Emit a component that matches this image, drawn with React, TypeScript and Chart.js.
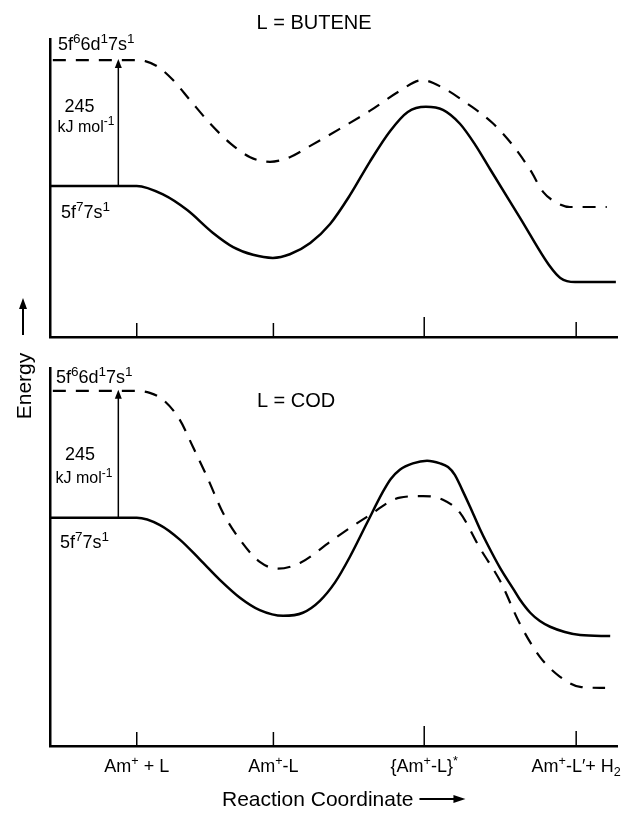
import React, { useEffect, useRef } from "react";
import { Chart, registerables } from "chart.js";

Chart.register(...registerables);

const FONT = '"Liberation Sans", Arial, Helvetica, sans-serif';

// ---------- data ----------
// Reaction-coordinate stages (x axis, arbitrary units 0-100)
const stageLabels = ["Am^{+} + L", "Am^{+}-L", "{Am^{+}-L}^{*}", "Am^{+}-L\u2032+ H_{2}"];
const stagePositions = [15.3, 39.4, 66.0, 92.8];

// Energies in kJ/mol relative to Am+ (5f7 7s1) + L
const excitationEnergy = 245;

// L = BUTENE, ground state 5f7 7s1 (solid)
const buteneGroundX = [0, 15.3, 20.0, 24.2, 28.7, 32.3, 35.8, 39.3, 42.3, 45.9, 49.4, 52.9, 56.4, 60.0, 63.1, 66.3, 69.3, 72.3, 75.0, 77.6, 82.9, 88.2, 90.0, 92.6, 99.8];
const buteneGroundE = [0, 0, -17, -47, -91, -119, -134, -140, -133, -111, -74, -18, 47, 107, 144, 154, 148, 121, 80, 33, -62, -157, -179, -187, -187];
// L = BUTENE, excited state 5f6 6d1 7s1 (dashed)
const buteneExcitedX = [0.5, 15.3, 16.8, 18.9, 21.7, 24.7, 28.2, 31.7, 35.3, 38.8, 42.3, 45.9, 51.1, 56.4, 61.7, 65.6, 69.3, 73.5, 78.1, 81.7, 84.7, 87.0, 89.1, 91.7, 98.2];
const buteneExcitedE = [245, 245, 243, 233, 206, 167, 122, 84, 56, 47, 56, 78, 111, 146, 185, 206, 191, 161, 122, 78, 31, -12, -31, -41, -41];

// L = COD, ground state (solid)
const codGroundX = [0, 15.3, 19.4, 22.9, 26.5, 30.0, 33.5, 37.0, 41.1, 44.6, 47.6, 50.3, 52.9, 55.9, 58.7, 60.1, 61.7, 64.0, 66.5, 68.8, 70.2, 71.4, 72.7, 74.1, 75.8, 77.1, 79.4, 81.7, 82.9, 84.7, 86.4, 88.2, 90.8, 93.5, 98.8];
const codGroundE = [0, 0, -14, -42, -81, -120, -154, -178, -189, -183, -160, -124, -75, -10, 50, 75, 93, 105, 110, 105, 98, 83, 54, 21, -21, -50, -97, -137, -158, -183, -199, -210, -220, -226, -228];
// L = COD, excited state (dashed)
const codExcitedX = [0.5, 15.3, 17.6, 19.9, 22.9, 25.2, 27.7, 30.5, 33.5, 37.0, 40.2, 44.1, 49.9, 55.9, 61.7, 65.8, 69.3, 72.3, 75.8, 79.4, 82.9, 86.4, 89.9, 93.5, 97.9];
const codExcitedE = [245, 245, 241, 228, 189, 137, 79, 10, -42, -85, -98, -87, -42, 2, 39, 42, 35, 10, -58, -122, -205, -268, -306, -326, -328];

// ---------- helpers ----------
type Seg = { text: string; kind: number };
function parseRich(s: string): Seg[] {
  const out: Seg[] = [];
  const re = /\^\{([^}]*)\}|_\{([^}]*)\}|([^^_]+)/g;
  let m: RegExpExecArray | null;
  while ((m = re.exec(s))) {
    if (m[1] !== undefined) out.push({ text: m[1], kind: 1 });
    else if (m[2] !== undefined) out.push({ text: m[2], kind: -1 });
    else out.push({ text: m[3], kind: 0 });
  }
  return out;
}

function drawRich(ctx: CanvasRenderingContext2D, s: string, x: number, y: number, size: number, align = "left", ratio = 0.75) {
  const segs = parseRich(s);
  const small = size * ratio;
  let total = 0;
  const widths = segs.map((seg) => {
    ctx.font = `${seg.kind ? small : size}px ${FONT}`;
    const w = ctx.measureText(seg.text).width;
    total += w;
    return w;
  });
  let cx = align === "center" ? x - total / 2 : align === "right" ? x - total : x;
  ctx.textAlign = "left";
  ctx.textBaseline = "alphabetic";
  segs.forEach((seg, i) => {
    ctx.font = `${seg.kind ? small : size}px ${FONT}`;
    const dy = seg.kind === 1 ? -size * 0.4 : seg.kind === -1 ? size * 0.22 : 0;
    ctx.fillText(seg.text, cx, y + dy);
    cx += widths[i];
  });
}

function arrowHead(ctx: CanvasRenderingContext2D, tipX: number, tipY: number, dir: "up" | "right", len: number, half: number) {
  ctx.beginPath();
  if (dir === "up") {
    ctx.moveTo(tipX, tipY);
    ctx.lineTo(tipX - half, tipY + len);
    ctx.lineTo(tipX + half, tipY + len);
  } else {
    ctx.moveTo(tipX, tipY);
    ctx.lineTo(tipX - len, tipY - half);
    ctx.lineTo(tipX - len, tipY + half);
  }
  ctx.closePath();
  ctx.fill();
}

const pts = (xs: number[], ys: number[]) => xs.map((v, i) => ({ x: v, y: ys[i] }));

type Panel = {
  key: string;
  title: string;
  groundX: number[];
  groundE: number[];
  excitedX: number[];
  excitedE: number[];
  range: [number, number];
  padding: { left: number; right: number; top: number; bottom: number };
  layout: any;
};

const tickLengths = [14, 14, 20, 15];

const butenePanel: Panel = {
  key: "butene",
  title: "L = BUTENE",
  groundX: buteneGroundX,
  groundE: buteneGroundE,
  excitedX: buteneExcitedX,
  excitedE: buteneExcitedE,
  range: [-294, 286],
  padding: { left: 50, right: 11, top: 39, bottom: 8 },
  layout: {
    titleCanvas: true,
    excited: { x: 1.41, e: 264 },
    n245: { x: 5.2, e: 144.5 },
    unit: { x: 6.35, e: 105.6 },
    ground: { x: 1.94, e: -62.2 },
    arrowX: 12.05,
    energyArrow: true,
  },
};

const codPanel: Panel = {
  key: "cod",
  title: "L = COD",
  groundX: codGroundX,
  groundE: codGroundE,
  excitedX: codExcitedX,
  excitedE: codExcitedE,
  range: [-440, 289],
  padding: { left: 50, right: 11, top: 23, bottom: 67 },
  layout: {
    titleAt: { x: 43.4, e: 214 },
    excited: { x: 1.06, e: 260.4 },
    n245: { x: 5.3, e: 111.9 },
    unit: { x: 6.0, e: 67 },
    ground: { x: 1.76, e: -57.9 },
    arrowX: 12.05,
    energyLabel: true,
    tickLabels: true,
  },
};

function makePlugin(p: Panel) {
  return {
    id: "annot_" + p.key,
    afterDraw(chart: any) {
      const { ctx, chartArea: a } = chart;
      const xs = chart.scales.x;
      const ys = chart.scales.y;
      const L = p.layout;
      ctx.save();
      ctx.fillStyle = "#000";
      ctx.strokeStyle = "#000";

      // inward tick marks at the stages
      ctx.lineWidth = 1.5;
      xs.ticks.forEach((t: any, i: number) => {
        const px = xs.getPixelForValue(t.value);
        ctx.beginPath();
        ctx.moveTo(px, a.bottom);
        ctx.lineTo(px, a.bottom - tickLengths[i % tickLengths.length]);
        ctx.stroke();
      });

      // excitation arrow (ground -> excited)
      const ax = xs.getPixelForValue(L.arrowX);
      const y0 = ys.getPixelForValue(0);
      const y1 = ys.getPixelForValue(excitationEnergy);
      ctx.lineWidth = 1.5;
      ctx.beginPath();
      ctx.moveTo(ax, y0);
      ctx.lineTo(ax, y1 + 7);
      ctx.stroke();
      arrowHead(ctx, ax, y1 - 1, "up", 9, 3.5);

      // panel title
      ctx.font = `20px ${FONT}`;
      ctx.textAlign = "center";
      ctx.textBaseline = "alphabetic";
      if (L.titleCanvas) {
        ctx.fillText(p.title, chart.width / 2, a.top - 10);
      } else if (L.titleAt) {
        ctx.fillText(p.title, xs.getPixelForValue(L.titleAt.x), ys.getPixelForValue(L.titleAt.e));
      }

      // state labels
      drawRich(ctx, "5f^{6}6d^{1}7s^{1}", xs.getPixelForValue(L.excited.x), ys.getPixelForValue(L.excited.e), 18, "left", 0.75);
      drawRich(ctx, "5f^{7}7s^{1}", xs.getPixelForValue(L.ground.x), ys.getPixelForValue(L.ground.e), 18, "left", 0.75);
      drawRich(ctx, String(excitationEnergy), xs.getPixelForValue(L.n245.x), ys.getPixelForValue(L.n245.e), 18, "center");
      drawRich(ctx, "kJ mol^{-1}", xs.getPixelForValue(L.unit.x), ys.getPixelForValue(L.unit.e), 16, "center", 0.75);

      // vertical "Energy" arrow (top panel)
      if (L.energyArrow) {
        const ex = 23;
        ctx.lineWidth = 2;
        ctx.beginPath();
        ctx.moveTo(ex, a.bottom - 2);
        ctx.lineTo(ex, a.bottom - 30);
        ctx.stroke();
        arrowHead(ctx, ex, a.bottom - 39, "up", 11, 4);
      }
      // rotated "Energy" label (bottom panel)
      if (L.energyLabel) {
        ctx.save();
        ctx.translate(25, a.top + 18);
        ctx.rotate(-Math.PI / 2);
        ctx.font = `21px ${FONT}`;
        ctx.textAlign = "center";
        ctx.textBaseline = "middle";
        ctx.fillText("Energy", 0, 0);
        ctx.restore();
      }

      // stage labels + axis title (bottom panel)
      if (L.tickLabels) {
        xs.ticks.forEach((t: any, i: number) => {
          drawRich(ctx, stageLabels[i], xs.getPixelForValue(t.value), a.bottom + 26, 18, "center", 0.7);
        });
        ctx.font = `21px ${FONT}`;
        ctx.textAlign = "left";
        ctx.textBaseline = "alphabetic";
        const tx = 222;
        const ty = a.bottom + 60;
        ctx.fillText("Reaction Coordinate", tx, ty);
        const w = ctx.measureText("Reaction Coordinate").width;
        const ay = a.bottom + 53;
        ctx.lineWidth = 2;
        ctx.beginPath();
        ctx.moveTo(tx + w + 6, ay);
        ctx.lineTo(tx + w + 42, ay);
        ctx.stroke();
        arrowHead(ctx, tx + w + 52, ay, "right", 12, 4);
      }
      ctx.restore();
    },
  };
}

function buildChart(canvas: HTMLCanvasElement, p: Panel) {
  return new Chart(canvas, {
    type: "line",
    data: {
      datasets: [
        {
          label: "5f7 7s1",
          data: pts(p.groundX, p.groundE),
          borderColor: "#000",
          borderWidth: 2.5,
          pointRadius: 0,
          cubicInterpolationMode: "monotone",
          fill: false,
        },
        {
          label: "5f6 6d1 7s1",
          data: pts(p.excitedX, p.excitedE),
          borderColor: "#000",
          borderWidth: 2.2,
          borderDash: [13, 10],
          pointRadius: 0,
          cubicInterpolationMode: "monotone",
          fill: false,
        },
      ],
    },
    options: {
      responsive: false,
      animation: false,
      devicePixelRatio: 1,
      events: [],
      layout: { padding: p.padding },
      plugins: {
        legend: { display: false },
        tooltip: { enabled: false },
        title: { display: false },
      },
      scales: {
        x: {
          type: "linear",
          min: 0,
          max: 100,
          afterBuildTicks: (s: any) => {
            s.ticks = stagePositions.map((v) => ({ value: v }));
          },
          ticks: { display: false },
          grid: { display: false, drawTicks: false },
          border: { display: true, color: "#000", width: 2.5 },
        },
        y: {
          type: "linear",
          min: p.range[0],
          max: p.range[1],
          ticks: { display: false },
          grid: { display: false, drawTicks: false },
          border: { display: true, color: "#000", width: 2.5 },
        },
      },
    } as any,
    plugins: [makePlugin(p)],
  } as any);
}

export default function App() {
  const topRef = useRef<HTMLCanvasElement>(null);
  const botRef = useRef<HTMLCanvasElement>(null);

  useEffect(() => {
    const c1 = buildChart(topRef.current!, butenePanel);
    const c2 = buildChart(botRef.current!, codPanel);
    return () => {
      c1.destroy();
      c2.destroy();
    };
  }, []);

  return (
    <div style={{ position: "absolute", left: 0, top: 0, width: 628, height: 813, background: "#fff" }}>
      <canvas ref={topRef} width={628} height={345} style={{ position: "absolute", left: 0, top: 0, display: "block" }} />
      <canvas ref={botRef} width={628} height={468} style={{ position: "absolute", left: 0, top: 345, display: "block" }} />
    </div>
  );
}
